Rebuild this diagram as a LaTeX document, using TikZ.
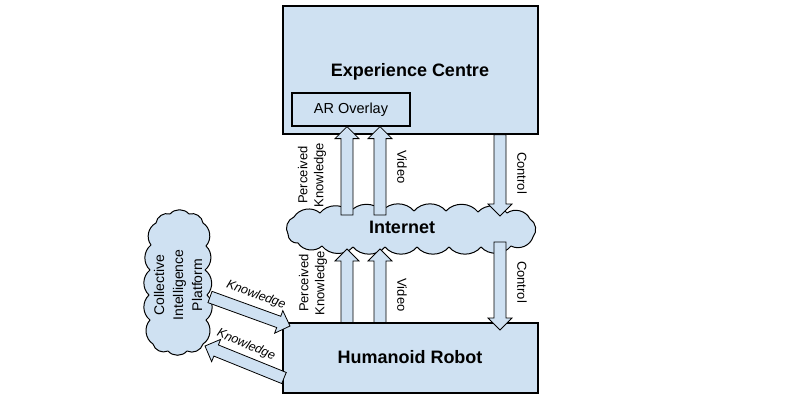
\documentclass[tikz,border=0pt]{standalone}
\usepackage{fontspec}
\setmainfont{Liberation Sans}
\usetikzlibrary{calc}
\definecolor{boxblue}{RGB}{207,225,242}
\tikzset{
  box/.style={draw=black, fill=boxblue, line width=1.2pt, inner sep=0pt},
  cloudline/.style={draw=black, fill=boxblue, line width=1pt, line join=round},
  bump/.style={bend left=#1},
  bump/.default=50,
  bigtxt/.style={font=\fontsize{18}{20}\selectfont\bfseries},
  smalltxt/.style={font=\fontsize{13}{16}\selectfont, align=center, inner sep=0pt},
  barrow/.style={draw=black, fill=boxblue, line width=0.8pt, line join=miter,
    to path={let \p1=(\tikztostart), \p2=(\tikztotarget),
      \n1={atan2(\y2-\y1,\x2-\x1)}, \n2={veclen(\x2-\x1,\y2-\y1)} in
      ($(\p1)+(\n1+90:6pt)$) -- ($(\p1)+(\n1:\n2-12pt)+(\n1+90:6pt)$)
      -- ($(\p1)+(\n1:\n2-12pt)+(\n1+90:12pt)$) -- (\p2)
      -- ($(\p1)+(\n1:\n2-12pt)+(\n1-90:12pt)$)
      -- ($(\p1)+(\n1:\n2-12pt)+(\n1-90:6pt)$)
      -- ($(\p1)+(\n1-90:6pt)$) -- cycle}}
}
\begin{document}
\begin{tikzpicture}[x=1pt,y=-1pt]
\useasboundingbox (0,0) rectangle (800,404);
\fill[white] (0,0) rectangle (800,404);
% boxes
\node[box, minimum width=255pt, minimum height=128pt] (ec) at (410.5,70) {};
\node[bigtxt] (ectxt) at (410,72) {Experience Centre};
\node[box, minimum width=118pt, minimum height=33pt, font=\fontsize{14.5}{16}\selectfont] (ar) at (351,109.5) {AR Overlay};
\node[box, minimum width=255pt, minimum height=70pt] (hr) at (410.5,358) {};
\node[bigtxt] (hrtxt) at (410,357) {Humanoid Robot};
% Internet cloud
\draw[cloudline] (288,234) to[bump] (294,217) to[bump] (320,213) to[bump] (350,212)
  to[bump] (382,211) to[bump] (414,211) to[bump] (446,211) to[bump] (478,212)
  to[bump] (507,213) to[bump] (530,219) to[bump] (533,237) to[bump] (511,246)
  to[bump] (481,247) to[bump] (449,247) to[bump] (417,247) to[bump] (385,247)
  to[bump] (353,247) to[bump] (322,246) to[bump] (298,243) to[bump] (288,234) -- cycle;
\node[bigtxt] (net) at (402,227) {Internet};
% Collective Intelligence Platform cloud
\draw[cloudline] (153,344) to[bump] (150,320) to[bump] (149,295) to[bump] (150,270)
  to[bump] (151,245) to[bump] (156,223) to[bump] (170,214) to[bump] (189,214)
  to[bump] (203,223) to[bump] (206,246) to[bump] (205,270) to[bump] (207,295)
  to[bump] (206,320) to[bump] (203,344) to[bump] (187,351) to[bump] (168,351)
  to[bump] (153,344) -- cycle;
\node[font=\fontsize{14}{19}\selectfont, align=center, rotate=90, inner sep=0pt] (cip) at (178,285) {Collective\\Intelligence\\Platform};
% arrow end points
\coordinate (upk0) at (347,215);
\coordinate (uvi0) at (380,215);
\coordinate (uct1) at (500,216);
\coordinate (lpk1) at (347,249);
\coordinate (lvi1) at (380,249);
\coordinate (lct0) at (500,242);
\coordinate (lct1) at (500,330);
\coordinate (k1a) at (210,297);
\coordinate (k1b) at (290,326);
\coordinate (k2a) at (284,378);
\coordinate (k2b) at (205,346);
% block arrows
\draw[barrow] (upk0) to (ar.south -| upk0);
\draw[barrow] (uvi0) to (ar.south -| uvi0);
\draw[barrow] (ec.south -| uct1) to (uct1);
\draw[barrow] (hr.north -| lpk1) to (lpk1);
\draw[barrow] (hr.north -| lvi1) to (lvi1);
\draw[barrow] (lct0) to (lct1);
\draw[barrow] (k1a) to (k1b);
\draw[barrow] (k2a) to (k2b);
% labels
\node[smalltxt, rotate=90] (lbpk1) at (312,175) {Perceived\\Knowledge};
\node[smalltxt, rotate=-90] (lbv1) at (402,167) {Video};
\node[smalltxt, rotate=-90] (lbc1) at (522,173) {Control};
\node[smalltxt, rotate=90] (lbpk2) at (313,283) {Perceived\\Knowledge};
\node[smalltxt, rotate=-90] (lbv2) at (402,295) {Video};
\node[smalltxt, rotate=-90] (lbc2) at (522,282) {Control};
\node[smalltxt, rotate=-20, font=\fontsize{12.5}{15}\selectfont\itshape] (lbk1) at (256,295) {Knowledge};
\node[smalltxt, rotate=-23, font=\fontsize{12.5}{15}\selectfont\itshape] (lbk2) at (246,345) {Knowledge};
\end{tikzpicture}
\end{document}
